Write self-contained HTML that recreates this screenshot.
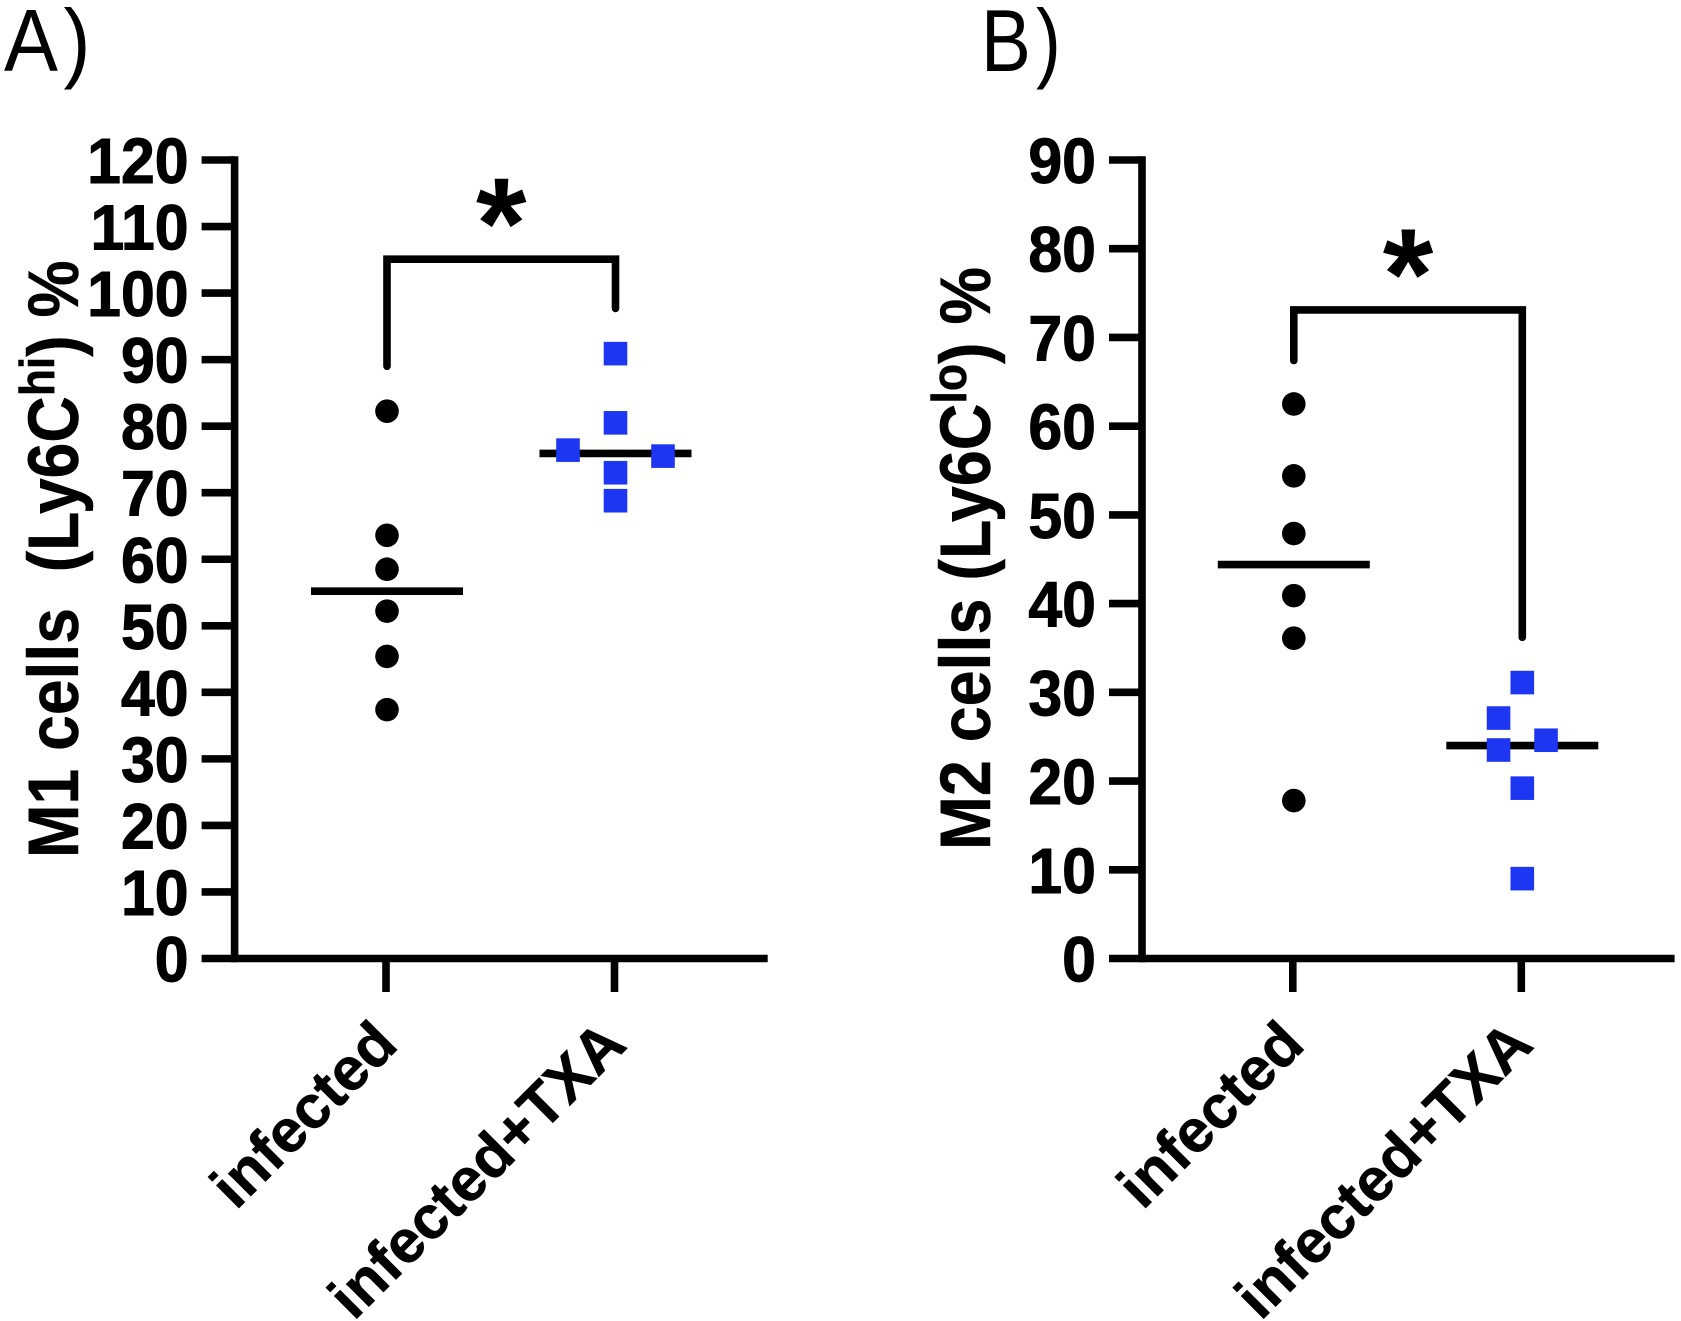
<!DOCTYPE html>
<html lang="en">
<head>
<meta charset="utf-8">
<title>M1 and M2 cells</title>
<style>
html,body{margin:0;padding:0;background:#fff;width:1681px;height:1321px;overflow:hidden}
svg{display:block}
text{font-family:"Liberation Sans",Arial,sans-serif;fill:#000}
.tick-label{font-size:64px;font-weight:700;text-anchor:end;stroke:#000;stroke-width:1px}
.cat-label{font-size:60.5px;font-weight:700;text-anchor:end;stroke:#000;stroke-width:.6px}
.axis-title{font-size:71px;font-weight:700;white-space:pre;stroke:#000;stroke-width:.5px}
.sup{font-size:49px}
.panel-label{font-size:88px}
.star{font-size:130px;font-weight:700;text-anchor:middle}
</style>
</head>
<body>
<svg id="figure" xmlns="http://www.w3.org/2000/svg" width="1681" height="1321" viewBox="0 0 1681 1321">
  <rect x="0" y="0" width="1681" height="1321" fill="#fff"/>
  <text class="panel-label" transform="translate(4,71) scale(.92,1)">A<tspan dx="6">)</tspan></text>
  <text class="panel-label" transform="translate(981,71) scale(.85,1)">B<tspan dx="6">)</tspan></text>
  <text class="axis-title" transform="translate(78,858) rotate(-90) scale(.905,1)" xml:space="preserve">M1 cells  (Ly6C<tspan class="sup" dy="-24">hi</tspan><tspan dy="24">) %</tspan></text>
  <text class="axis-title" transform="translate(990,850) rotate(-90) scale(.91,1)" xml:space="preserve">M2 cells (Ly6C<tspan class="sup" dy="-24">lo</tspan><tspan dy="24">) %</tspan></text>
  <g id="panel-a"></g>
  <g id="panel-b"></g>
</svg>
<script>
const categories = ['infected', 'infected+TXA'];

const ticksA = [0, 10, 20, 30, 40, 50, 60, 70, 80, 90, 100, 110, 120];
const infectedA = [82.25, 63.6, 58.5, 52.2, 45.4, 37.4];
const txaA = [90.9, 80.5, 76.4, 75.5, 73, 68.8];
const txaDodgeA = [0, 0, -1, 1, 0, 0];
const infectedDodgeA = [0, 0, 0, 0, 0, 0];
const meansA = [55.2, 75.9];
const bracketTopA = 105.1;
const bracketLegsA = [89, 97.7];

const ticksB = [0, 10, 20, 30, 40, 50, 60, 70, 80, 90];
const infectedB = [62.5, 54.4, 47.9, 40.9, 36.1, 17.8];
const txaB = [31.1, 27.1, 24.6, 23.5, 19.2, 9];
const txaDodgeB = [0, -0.5, 0.5, -0.5, 0, 0];
const infectedDodgeB = [0, 0, 0, 0, 0, 0];
const meansB = [44.4, 24];
const bracketTopB = 73.1;
const bracketLegsB = [67.4, 36.2];

const NS = 'http://www.w3.org/2000/svg';
const BLUE = '#1c36f2';
const STROKE = 7.6;
const MARK = 23.6;
const DODGE = 47.5;
const BASE_Y = 958.5;
const TOP_Y = 160;

function make(parent, tag, attrs) {
  const el = document.createElementNS(NS, tag);
  for (const k in attrs) el.setAttribute(k, attrs[k]);
  parent.appendChild(el);
  return el;
}

function drawPanel(cfg) {
  const root = document.getElementById(cfg.id);
  const maxV = cfg.ticks[cfg.ticks.length - 1];
  const y = v => BASE_Y - (v / maxV) * (BASE_Y - TOP_Y);
  const x = i => cfg.x0 + i * 228.5;

  const yAxis = make(root, 'line', {x1: cfg.axisX, x2: cfg.axisX, y1: TOP_Y - STROKE / 2, y2: BASE_Y + STROKE / 2, stroke: '#000', 'stroke-width': STROKE});
  
  
  const xAxis = make(root, 'line', {x1: cfg.axisX - 33, x2: cfg.xEnd, y1: BASE_Y, y2: BASE_Y, stroke: '#000', 'stroke-width': STROKE});
  
  

  cfg.ticks.forEach(t => {
    if (t !== 0) {
      const tk = make(root, 'line', {x1: cfg.axisX - 33, x2: cfg.axisX, y1: y(t), y2: y(t), stroke: '#000', 'stroke-width': STROKE});
      
      
    }
    const lb = make(root, 'text', {class: 'tick-label', transform: 'translate(' + (cfg.axisX - 46) + ',' + (y(t) + 23) + ') scale(.95,1)'});
    lb.textContent = t;
    
    
  });

  categories.forEach((c, i) => {
    const tk = make(root, 'line', {x1: x(i) - 1, x2: x(i) - 1, y1: BASE_Y, y2: 992, stroke: '#000', 'stroke-width': STROKE});
    
    
    const lb = make(root, 'text', {class: 'cat-label', transform: 'translate(' + (x(i) + 13) + ',1047) rotate(-45)'});
    lb.textContent = c;
    
    
  });

  cfg.means.forEach((m, i) => {
    const ln = make(root, 'line', {x1: x(i) - 76, x2: x(i) + 76, y1: y(m), y2: y(m), stroke: '#000', 'stroke-width': STROKE});
    
    
  });

  cfg.infected.forEach((v, i) => {
    const dot = make(root, 'circle', {cx: x(0) + cfg.infectedDodge[i] * DODGE, cy: y(v), r: MARK / 2, fill: '#000'});
    
    
  });

  cfg.txa.forEach((v, i) => {
    const sq = make(root, 'rect', {x: x(1) + cfg.txaDodge[i] * DODGE - MARK / 2, y: y(v) - MARK / 2, width: MARK, height: MARK, fill: BLUE});
    
    
  });

  const by = y(cfg.bracketTop);
  const br = make(root, 'path', {
    d: 'M' + x(0) + ' ' + y(cfg.legs[0]) + 'V' + by + 'H' + x(1) + 'V' + y(cfg.legs[1]),
    fill: 'none', stroke: '#000', 'stroke-width': STROKE, 'stroke-linejoin': 'miter', 'stroke-linecap': 'round'
  });
  
  

  const st = make(root, 'text', {class: 'star', x: (x(0) + x(1)) / 2, y: by + 9});
  st.textContent = '*';
  
  
}

drawPanel({id: 'panel-a', ticks: ticksA, infected: infectedA, infectedDodge: infectedDodgeA, txa: txaA, txaDodge: txaDodgeA, means: meansA, bracketTop: bracketTopA, legs: bracketLegsA, axisX: 234.6, xEnd: 767.7, x0: 387});
drawPanel({id: 'panel-b', ticks: ticksB, infected: infectedB, infectedDodge: infectedDodgeB, txa: txaB, txaDodge: txaDodgeB, means: meansB, bracketTop: bracketTopB, legs: bracketLegsB, axisX: 1142, xEnd: 1674.6, x0: 1293.8});
</script>
</body>
</html>
